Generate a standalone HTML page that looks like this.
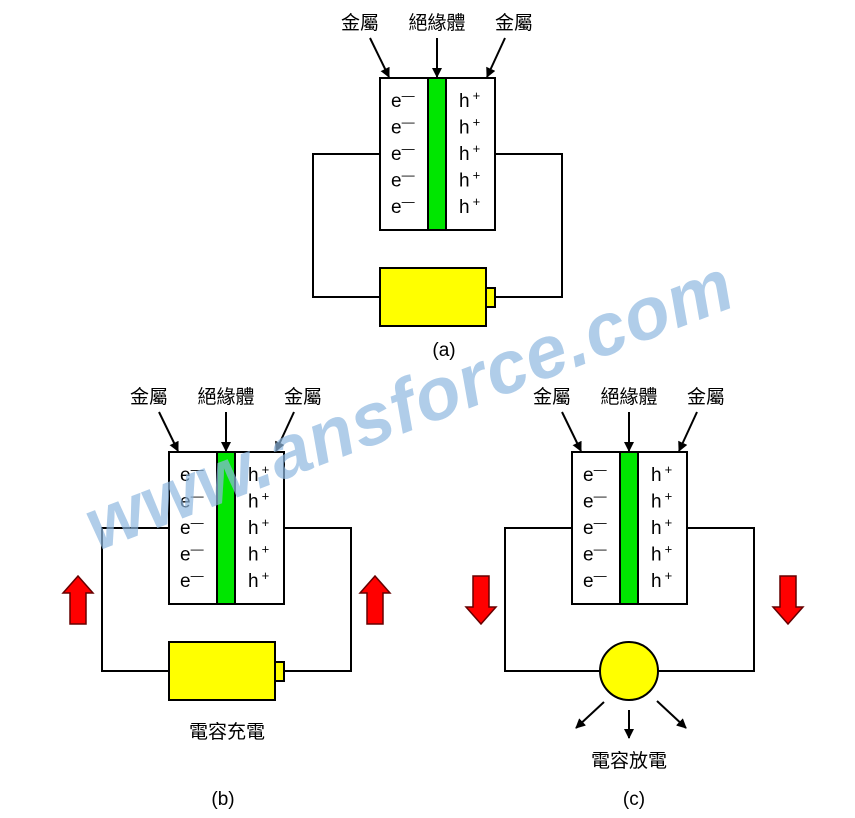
<!DOCTYPE html>
<html><head><meta charset="utf-8"><style>
html,body{margin:0;padding:0;background:#fff;}
svg{display:block;}
text{font-family:"Liberation Sans","Noto Sans CJK TC",sans-serif;fill:#000;}
</style></head><body>
<svg width="855" height="818" viewBox="0 0 855 818" xmlns="http://www.w3.org/2000/svg">
<defs>
<marker id="ah" markerWidth="10" markerHeight="10" refX="9" refY="5" orient="auto" markerUnits="userSpaceOnUse">
<path d="M0,0 L10,5 L0,10 Z" fill="#000"/>
</marker>
<g id="cap">
<rect x="0" y="0" width="115" height="152" fill="#fff" stroke="#000" stroke-width="2"/>
<rect x="48" y="0" width="18" height="152" fill="#00e600" stroke="#000" stroke-width="2"/>
<g font-size="19">
<text x="11" y="29">e<tspan font-size="13" dy="-7">—</tspan></text>
<text x="11" y="55.5">e<tspan font-size="13" dy="-7">—</tspan></text>
<text x="11" y="82">e<tspan font-size="13" dy="-7">—</tspan></text>
<text x="11" y="108.5">e<tspan font-size="13" dy="-7">—</tspan></text>
<text x="11" y="135">e<tspan font-size="13" dy="-7">—</tspan></text>
<text x="79" y="29">h<tspan font-size="13" dx="3" dy="-7">+</tspan></text>
<text x="79" y="55.5">h<tspan font-size="13" dx="3" dy="-7">+</tspan></text>
<text x="79" y="82">h<tspan font-size="13" dx="3" dy="-7">+</tspan></text>
<text x="79" y="108.5">h<tspan font-size="13" dx="3" dy="-7">+</tspan></text>
<text x="79" y="135">h<tspan font-size="13" dx="3" dy="-7">+</tspan></text>
</g>
<g font-size="19" text-anchor="middle">
<text x="-20" y="-49">金屬</text>
<text x="57" y="-49">絕緣體</text>
<text x="134" y="-49">金屬</text>
</g>
<g stroke="#000" stroke-width="2" marker-end="url(#ah)">
<line x1="-10" y1="-40" x2="9" y2="-1"/>
<line x1="57" y1="-40" x2="57" y2="-1"/>
<line x1="125" y1="-40" x2="107" y2="-1"/>
</g>
</g>
<g id="bat">
<rect x="0" y="0" width="106" height="58" fill="#ffff00" stroke="#000" stroke-width="2"/>
<rect x="106" y="20" width="9" height="19" fill="#ffff00" stroke="#000" stroke-width="2"/>
</g>
<path id="up" d="M0,-24 L15,-7 L8,-7 L8,24 L-8,24 L-8,-7 L-15,-7 Z" fill="#f00" stroke="#600" stroke-width="1.5"/>
</defs>

<!-- (a) -->
<polyline points="380,154 313,154 313,297 380,297" fill="none" stroke="#000" stroke-width="2"/>
<polyline points="495,154 562,154 562,297 495,297" fill="none" stroke="#000" stroke-width="2"/>
<use href="#cap" x="380" y="78"/>
<use href="#bat" x="380" y="268"/>
<text x="444" y="356" font-size="19" text-anchor="middle">(a)</text>

<!-- (b) -->
<polyline points="169,528 102,528 102,671 169,671" fill="none" stroke="#000" stroke-width="2"/>
<polyline points="285,528 351,528 351,671 285,671" fill="none" stroke="#000" stroke-width="2"/>
<use href="#cap" x="169" y="452"/>
<use href="#bat" x="169" y="642"/>
<use href="#up" x="78" y="600"/>
<use href="#up" x="375" y="600"/>
<text x="227" y="738" font-size="19" text-anchor="middle">電容充電</text>
<text x="223" y="805" font-size="19" text-anchor="middle">(b)</text>

<!-- (c) -->
<polyline points="572,528 505,528 505,671 600,671" fill="none" stroke="#000" stroke-width="2"/>
<polyline points="688,528 754,528 754,671 658,671" fill="none" stroke="#000" stroke-width="2"/>
<use href="#cap" x="572" y="452"/>
<circle cx="629" cy="671" r="29" fill="#ffff00" stroke="#000" stroke-width="2"/>
<use href="#up" transform="translate(481,600) rotate(180)"/>
<use href="#up" transform="translate(788,600) rotate(180)"/>
<g stroke="#000" stroke-width="2" marker-end="url(#ah)">
<line x1="604" y1="702" x2="576" y2="728"/>
<line x1="629" y1="710" x2="629" y2="738"/>
<line x1="657" y1="701" x2="686" y2="728"/>
</g>
<text x="629" y="767" font-size="19" text-anchor="middle">電容放電</text>
<text x="634" y="805" font-size="19" text-anchor="middle">(c)</text>

<!-- watermark -->
<text x="0" y="0" transform="translate(418,428) rotate(-21)" font-size="74" font-weight="bold" font-style="italic" text-anchor="middle" style="fill:#8fb8e0;fill-opacity:0.7;letter-spacing:1px">www.ansforce.com</text>
</svg>
</body></html>
